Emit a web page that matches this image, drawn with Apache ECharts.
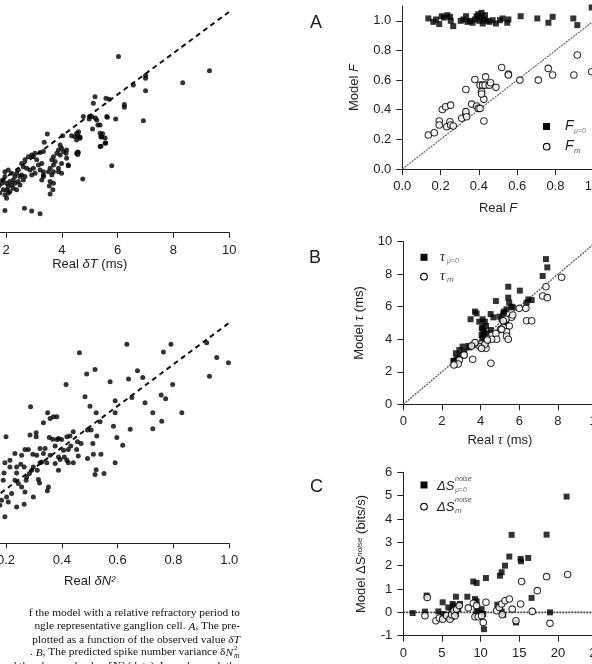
<!DOCTYPE html>
<html>
<head>
<meta charset="utf-8">
<script src="https://cdn.jsdelivr.net/npm/echarts@6.0.0/dist/echarts.min.js"></script>
<style>
  html, body { margin: 0; padding: 0; background: #fff; }
  #chart { width: 592px; height: 664px; }
</style>
</head>
<body>
<div id="chart"></div>
<script>
// left top: model vs real dT (ms)
const dtPoints = [
  [6.03,7.83],[9.29,7.15],[8.33,6.57],[7.0,6.92],[7.0,6.78],[7.0,6.18],[6.56,6.46],[6.92,4.73],[6.24,5.52],[6.24,5.38],
  [5.93,4.82],[5.63,4.9],[5.58,5.82],[5.7,5.77],[5.19,5.89],[5.13,5.57],[5.2,4.86],[5.0,4.94],[4.98,4.82],[5.1,4.33],
  [5.29,4.53],[5.79,2.56],[4.75,1.92],[5.4,3.95],[5.46,4.1],[5.55,3.9],[5.4,3.5],[5.57,3.65],[4.57,4.0],[4.6,4.2],
  [4.53,3.8],[4.65,3.95],[4.35,4.0],[4.57,3.22],[4.57,3.1],[4.23,2.55],[3.48,4.09],[3.37,3.69],[4.03,4.0],[1.96,0.39],
  [2.66,0.5],[2.92,0.37],[3.22,0.23],[3.58,1.19],[3.68,1.4],
  [3.94,3.56],[3.99,3.4],[3.88,3.32],[4.06,3.24],[4.17,3.32],[4.15,3.16],[3.94,3.08],[3.82,3.16],[3.7,2.99],[3.64,2.84],
  [3.76,2.76],[4.17,2.92],[4.23,2.59],[3.99,2.67],[3.88,2.43],[3.7,2.59],[3.58,2.43],[3.52,2.27],[3.64,2.11],[3.58,1.79],
  [3.7,1.71],[3.55,1.58],[3.34,2.11],[3.34,2.27],[3.22,2.35],[3.16,2.59],[3.28,2.67],[3.1,2.84],[2.98,2.99],[2.92,3.08],
  [3.04,3.16],[3.22,3.19],[3.34,3.24],[2.8,2.99],[2.68,2.84],[2.56,2.67],[2.62,2.51],[2.74,2.43],[2.86,2.35],[2.98,2.43],
  [3.04,2.19],[2.92,2.11],[2.68,2.03],[2.56,2.11],[2.44,2.35],[2.38,2.19],[2.32,2.03],[2.26,1.87],[2.14,1.79],[2.02,1.71],
  [1.96,2.03],[1.9,1.87],[1.85,1.71],[2.08,1.55],[2.2,1.63],[2.32,1.71],[2.44,1.79],[2.5,1.63],[1.96,2.27],[2.08,2.35],
  [2.2,2.19],[2.5,2.03],[2.62,1.87],[2.02,1.39],[1.9,1.39],[2.08,1.23],[1.96,1.15],[2.02,0.98],[2.26,1.47],[2.38,1.39],
  [2.14,1.31],[3.7,2.27],[3.88,2.27],[3.99,2.19],[3.28,1.87],[3.34,2.03],[4.53,4.12],[4.47,3.96],[4.65,3.88],[4.53,3.16],
  [4.59,3.19],[4.77,4.93],[5.07,4.93],[5.25,4.77],[5.37,4.53],[5.61,4.93],[5.37,4.12],[5.43,3.96],[5.37,3.48],[5.55,3.64],
  [1.78,1.24],[1.75,1.6],[1.7,1.5],[1.6,1.3],[1.5,1.2],[1.72,1.9],[1.4,1.0]
];

// left bottom: model vs real dN^2
const dnPoints = [
  [0.633,0.896],[0.791,0.896],[0.463,0.856],[0.764,0.859],[0.919,0.904],[0.955,0.833],[0.997,0.808],[0.929,0.743],
  [0.671,0.769],[0.69,0.737],[0.639,0.729],[0.573,0.716],[0.489,0.753],[0.519,0.775],[0.415,0.703],[0.797,0.703],
  [0.483,0.644],[0.501,0.599],[0.523,0.567],[0.591,0.625],[0.591,0.567],[0.651,0.641],[0.698,0.615],[0.756,0.652],
  [0.772,0.634],[0.726,0.567],[0.758,0.527],[0.83,0.567],[0.726,0.49],[0.645,0.488],[0.585,0.503],[0.597,0.448],
  [0.618,0.411],[0.591,0.327],[0.525,0.455],[0.511,0.42],[0.537,0.524],[0.505,0.484],[0.492,0.484],[0.513,0.368],
  [0.492,0.347],[0.523,0.294],[0.519,0.27],[0.551,0.275],[0.54,0.368],[0.469,0.42],[0.456,0.428],[0.441,0.476],
  [0.418,0.452],[0.429,0.455],[0.432,0.407],[0.423,0.391],[0.406,0.387],[0.441,0.327],[0.423,0.327],[0.453,0.391],
  [0.459,0.359],[0.418,0.339],[0.409,0.355],[0.388,0.444],[0.399,0.439],[0.382,0.439],[0.376,0.407],[0.388,0.355],
  [0.394,0.343],[0.388,0.291],[0.376,0.323],[0.358,0.363],[0.346,0.327],[0.328,0.331],[0.334,0.371],[0.322,0.396],
  [0.34,0.396],[0.355,0.448],[0.367,0.44],[0.358,0.54],[0.349,0.567],[0.37,0.548],[0.382,0.548],[0.334,0.519],
  [0.288,0.596],[0.308,0.471],[0.308,0.452],[0.286,0.46],[0.28,0.391],[0.268,0.391],[0.296,0.368],[0.31,0.363],
  [0.322,0.327],[0.312,0.291],[0.298,0.307],[0.292,0.291],[0.284,0.275],[0.274,0.259],[0.272,0.243],[0.265,0.307],
  [0.253,0.32],[0.238,0.307],[0.238,0.278],[0.214,0.339],[0.214,0.307],[0.232,0.371],[0.256,0.363],[0.2,0.452],
  [0.196,0.327],[0.193,0.278],[0.19,0.243],[0.232,0.243],[0.244,0.227],[0.256,0.211],[0.268,0.187],[0.298,0.163],
  [0.265,0.128],[0.238,0.115],[0.208,0.139],[0.196,0.067],[0.352,0.211],[0.348,0.192],[0.22,0.179],[0.202,0.163],
  [0.316,0.247],[0.32,0.23],[0.178,0.123],[0.184,0.147],[0.15,0.1],[0.12,0.08],[0.16,0.2],[0.1,0.05]
];

// panel A: Model F vs Real F
const fZeroPoints = [
  [0.136,1.016],[0.162,0.993],[0.176,1.009],[0.193,0.978],[0.206,1.031],[0.218,1.022],[0.235,1.038],[0.249,1.027],
  [0.253,1.0],[0.266,0.964],[0.305,1.0],[0.319,1.009],[0.333,1.031],[0.34,0.993],[0.354,1.0],[0.367,0.987],
  [0.38,1.009],[0.388,1.031],[0.397,1.045],[0.402,1.0],[0.409,1.022],[0.414,1.054],[0.42,0.982],[0.427,1.009],
  [0.432,1.038],[0.441,1.0],[0.455,0.993],[0.472,1.004],[0.489,0.982],[0.51,1.004],[0.524,1.016],[0.548,0.987],
  [0.554,1.009],[0.618,1.031],[0.705,1.016],[0.763,0.987],[0.785,1.027],[0.893,1.016],[0.914,0.971],[0.989,1.09]
];
const fMPoints = [
  [0.136,0.229],[0.167,0.245],[0.193,0.324],[0.193,0.297],[0.209,0.402],[0.226,0.42],[0.252,0.431],[0.232,0.285],
  [0.249,0.319],[0.252,0.297],[0.266,0.29],[0.31,0.342],[0.332,0.369],[0.332,0.387],[0.336,0.353],[0.332,0.537],
  [0.362,0.438],[0.388,0.425],[0.397,0.409],[0.406,0.409],[0.426,0.47],[0.426,0.324],[0.379,0.604],[0.406,0.566],
  [0.419,0.566],[0.432,0.566],[0.414,0.521],[0.414,0.506],[0.435,0.622],[0.454,0.566],[0.461,0.582],[0.489,0.551],
  [0.519,0.685],[0.554,0.64],[0.554,0.634],[0.614,0.6],[0.71,0.6],[0.762,0.679],[0.785,0.634],[0.896,0.634],
  [0.914,0.769],[0.989,0.656]
];

// panel B: Model tau vs Real tau (ms)
const tauZeroPoints = [
  [7.38,8.93],[7.45,8.42],[7.21,7.89],[6.03,6.99],[4.79,6.35],[5.43,7.23],[5.43,6.56],[5.48,6.25],[5.66,5.96],
  [5.34,5.84],[5.21,5.7],[3.71,5.7],[3.79,5.59],[3.48,5.23],[4.1,5.23],[4.52,5.55],[4.66,5.35],[4.97,5.39],
  [5.09,5.23],[4.22,5.08],[4.28,4.82],[4.1,4.73],[4.17,4.47],[4.31,4.36],[4.05,4.26],[4.1,4.06],[4.52,4.57],
  [5.31,5.08],[6.47,6.45],[6.64,6.41],[6.38,6.25],[3.07,3.55],[2.9,3.34],[2.72,3.14],[2.59,2.66],[2.76,2.83],
  [3.36,3.59],[5.6,6.0],[5.17,5.59],[3.93,5.08],[4.06,4.67],[4.14,4.46],[4.17,4.16],[3.62,3.65],[3.42,3.5],
  [3.15,3.24],[2.93,3.03],[2.62,2.68]
];
const tauMPoints = [
  [8.19,7.81],[7.38,7.23],[7.21,6.66],[7.45,6.56],[6.38,5.14],[6.64,5.14],[6.0,5.9],[6.34,5.9],[5.6,5.35],
  [5.31,5.23],[5.48,4.82],[5.17,4.73],[5.03,4.61],[5.34,4.47],[4.79,4.36],[5.34,4.2],[5.43,4.0],[4.83,4.0],
  [4.57,4.0],[4.31,3.91],[4.05,3.71],[4.17,3.59],[3.97,3.55],[4.28,3.44],[3.71,3.79],[3.53,3.59],[3.1,3.03],
  [2.9,2.73],[2.67,2.48],[2.84,2.48],[3.59,2.77],[4.53,2.52],[5.17,5.14],[5.66,5.49],[5.09,4.61],[4.22,3.7],
  [4.05,3.44],[3.15,3.03],[2.62,2.42],[4.35,3.95]
];

// panel C: Model dS_noise vs real (bits/s)
const dsZeroPoints = [
  [1.21,-0.03],[2.8,0.03],[3.02,0.72],[4.53,0.04],[5.09,0.43],[5.09,-0.07],[5.82,0.21],[5.95,-0.21],[6.25,0.07],
  [6.47,0.29],[6.9,0.24],[7.11,0.14],[6.38,0.36],[6.55,-0.07],[6.25,-0.21],[6.81,-0.07],[7.33,0.36],[6.81,0.67],
  [8.28,0.67],[9.05,1.32],[9.48,1.26],[9.27,0.57],[9.48,0.47],[9.48,0.04],[9.7,0.0],[9.4,-0.1],[9.91,-0.04],
  [10.13,0.14],[10.34,-0.07],[10.43,-0.72],[10.69,1.47],[12.16,0.33],[12.5,1.57],[12.72,1.72],[13.15,2.0],
  [13.71,2.39],[14.01,3.32],[12.72,0.04],[12.93,-0.1],[14.57,-0.43],[15.17,2.29],[15.22,2.19],[16.16,2.33],
  [16.59,0.62],[18.53,3.33],[18.97,0.0],[21.12,4.96]
];
const dsMPoints = [
  [2.8,-0.14],[3.1,0.64],[4.22,-0.36],[4.66,-0.24],[5.09,-0.29],[5.6,-0.14],[6.03,-0.29],[6.25,-0.1],[6.55,0.07],
  [6.68,-0.14],[6.9,0.14],[7.24,0.29],[8.41,0.19],[9.05,0.39],[9.48,0.29],[9.27,-0.19],[9.7,-0.19],[10.13,-0.14],
  [10.34,-0.43],[10.69,0.43],[12.07,0.07],[12.41,0.21],[12.72,0.36],[12.8,-0.1],[13.15,0.5],[13.71,0.57],
  [14.09,0.14],[14.57,-0.36],[15.17,0.36],[15.3,1.32],[16.68,0.04],[17.33,0.93],[18.53,1.53],[18.97,-0.47],
  [21.25,1.62]
];

const fTicks = [0, 0.2, 0.4, 0.6, 0.8, 1.0];

const sans = 'Liberation Sans';
const serif = 'Liberation Serif';
const ink = '#222';

const chart = echarts.init(document.getElementById('chart'));

// shared axis look
function axis(gridIndex, extra) {
  return Object.assign({
    gridIndex: gridIndex,
    type: 'value',
    nameLocation: 'middle',
    splitLine: { show: false },
    axisLine: { onZero: false, lineStyle: { color: ink, width: 1 } },
    axisTick: { length: 5, lineStyle: { color: ink } },
    axisLabel: { color: ink, fontSize: 13, fontFamily: sans, margin: 11 },
    nameTextStyle: {
      color: ink, fontSize: 13, fontFamily: sans,
      rich: {
        i: { fontStyle: 'italic', fontSize: 13, fontFamily: sans, color: ink },
        g: { fontStyle: 'italic', fontSize: 14, fontFamily: serif, color: ink },
        sup: { fontStyle: 'italic', fontSize: 8, fontFamily: sans, color: ink, verticalAlign: 'top', lineHeight: 10 }
      }
    }
  }, extra);
}

const oneDec = v => v.toFixed(1);

function scatter(name, data, xi, symbol, size, hollow) {
  return {
    name: name, type: 'scatter', xAxisIndex: xi, yAxisIndex: xi,
    data: data, symbol: symbol, symbolSize: size, silent: true,
    itemStyle: hollow
      ? { color: '#fff', borderColor: '#000', borderWidth: 1.1 }
      : { color: '#000' }
  };
}

function refLine(data, xi, style) {
  return {
    type: 'line', xAxisIndex: xi, yAxisIndex: xi, data: data,
    symbol: 'none', silent: true, lineStyle: style, z: 1
  };
}

function txt(x, y, text, size, opts) {
  return {
    type: 'text', x: x, y: y, silent: true,
    style: Object.assign({
      text: text, fontSize: size, fontFamily: sans, fill: ink,
      align: 'left', verticalAlign: 'middle'
    }, opts || {})
  };
}

const capRich = {
  i: { fontStyle: 'italic', fontSize: 11.4, fontFamily: serif, fill: '#111' }
};
function capLine(y, text) {
  return txt(240, y, text, 11.4, { fontFamily: serif, align: 'right', rich: capRich, fill: '#111' });
}

// grids may run past the page edge, as in the cropped figure
const gridBase = { outerBoundsMode: 'none', containLabel: false };

const option = {
  animation: false,
  backgroundColor: '#fff',
  grid: [
    Object.assign({ left: -49.8, top: 11.7, width: 279.1, height: 221 }, gridBase),
    Object.assign({ left: -49.8, top: 322.7, width: 279.1, height: 220.6 }, gridBase),
    Object.assign({ left: 402.3, top: 6, width: 191.5, height: 163 }, gridBase),
    Object.assign({ left: 403.3, top: 241.7, width: 193.3, height: 162.6 }, gridBase),
    Object.assign({ left: 403.3, top: 472.3, width: 193.3, height: 163.4 }, gridBase)
  ],
  xAxis: [
    axis(0, { min: 0, max: 10, interval: 2, name: 'Real {i|δT} (ms)', nameGap: 23 }),
    axis(1, { min: 0, max: 1, interval: 0.2, name: 'Real {i|δN²}', nameGap: 32,
      axisLabel: { color: ink, fontSize: 13, fontFamily: sans, margin: 11, formatter: oneDec } }),
    axis(2, { min: 0, max: 1, interval: 0.2, name: 'Real {i|F}', nameGap: 33, axisTick: { length: 6, lineStyle: { color: ink } },
      axisLabel: { color: ink, fontSize: 13, fontFamily: sans, margin: 11, formatter: oneDec } }),
    axis(3, { min: 0, max: 10, interval: 2, name: 'Real {g|τ} (ms)', nameGap: 29, axisTick: { length: 6, lineStyle: { color: ink } } }),
    axis(4, { min: 0, max: 25, interval: 5, axisTick: { length: 6, lineStyle: { color: ink } } })
  ],
  yAxis: [
    { gridIndex: 0, type: 'value', min: -0.68, max: 10, show: false },
    { gridIndex: 1, type: 'value', min: -0.06, max: 1, show: false },
    axis(2, { min: 0, max: 1.1, name: 'Model {i|F}', nameGap: 41, nameRotate: 90,
      axisTick: { length: 6, lineStyle: { color: ink }, customValues: fTicks },
      axisLabel: { color: ink, fontSize: 13, fontFamily: sans, margin: 11, formatter: oneDec, customValues: fTicks } }),
    axis(3, { min: 0, max: 10, interval: 2, name: 'Model {g|τ} (ms)', nameGap: 37, nameRotate: 90,
      axisTick: { length: 6, lineStyle: { color: ink } } }),
    axis(4, { min: -1, max: 6, interval: 1, name: 'Model ΔS{sup|noise} (bits/s)', nameGap: 35, nameRotate: 90,
      axisTick: { length: 6, lineStyle: { color: ink } } })
  ],
  series: [
    refLine([[0, 0], [10, 10]], 0, { color: '#111', width: 2, type: [5, 4] }),
    scatter('dT', dtPoints, 0, 'circle', 5),
    refLine([[0, 0], [1, 1]], 1, { color: '#111', width: 2, type: [5, 4] }),
    scatter('dN2', dnPoints, 1, 'circle', 5),
    refLine([[0, 0], [1, 1]], 2, { color: '#666', width: 1.2, type: [2, 1] }),
    scatter('F0', fZeroPoints, 2, 'rect', 6),
    scatter('Fm', fMPoints, 2, 'circle', 6.5, true),
    refLine([[0, 0], [10, 10]], 3, { color: '#666', width: 1.4, type: [2, 1] }),
    scatter('tau0', tauZeroPoints, 3, 'rect', 6),
    scatter('taum', tauMPoints, 3, 'circle', 6.5, true),
    refLine([[0, 0], [25, 0]], 4, { color: '#444', width: 1.6, type: [2, 1] }),
    scatter('ds0', dsZeroPoints, 4, 'rect', 6),
    scatter('dsm', dsMPoints, 4, 'circle', 6.5, true)
  ],
  graphic: [
    txt(310, 23, 'A', 18),
    txt(309, 258, 'B', 18),
    txt(310, 487, 'C', 18),
    // legend A
    { type: 'rect', shape: { x: 543, y: 123, width: 7, height: 7 }, style: { fill: '#000' }, silent: true },
    { type: 'circle', shape: { cx: 546.7, cy: 146.7, r: 3.3 }, style: { fill: '#fff', stroke: '#000', lineWidth: 1.1 }, silent: true },
    txt(565, 126, 'F', 14, { fontStyle: 'italic' }),
    txt(574, 131, 'μ=0', 7, { fontStyle: 'italic', fill: '#777' }),
    txt(565, 146, 'F', 14, { fontStyle: 'italic' }),
    txt(574, 151, 'm', 8, { fontStyle: 'italic', fill: '#555' }),
    // legend B
    { type: 'rect', shape: { x: 420.5, y: 253.8, width: 7, height: 7 }, style: { fill: '#000' }, silent: true },
    { type: 'circle', shape: { cx: 424, cy: 276.7, r: 3.3 }, style: { fill: '#fff', stroke: '#000', lineWidth: 1.1 }, silent: true },
    txt(440, 257, 'τ', 14, { fontStyle: 'italic', fontFamily: serif }),
    txt(447, 261, 'μ=0', 7, { fontStyle: 'italic', fill: '#777' }),
    txt(440, 276, 'τ', 14, { fontStyle: 'italic', fontFamily: serif }),
    txt(447, 280, 'm', 8, { fontStyle: 'italic', fill: '#555' }),
    // legend C
    { type: 'rect', shape: { x: 420.5, y: 481.5, width: 7, height: 7 }, style: { fill: '#000' }, silent: true },
    { type: 'circle', shape: { cx: 424, cy: 506.7, r: 3.3 }, style: { fill: '#fff', stroke: '#000', lineWidth: 1.1 }, silent: true },
    txt(437, 486, 'ΔS', 13, { fontStyle: 'italic' }),
    txt(455, 479, 'noise', 7, { fontStyle: 'italic', fill: '#555' }),
    txt(455, 490, 'μ=0', 7, { fontStyle: 'italic', fill: '#777' }),
    txt(437, 507, 'ΔS', 13, { fontStyle: 'italic' }),
    txt(455, 500, 'noise', 7, { fontStyle: 'italic', fill: '#555' }),
    txt(455, 511, 'm', 8, { fontStyle: 'italic', fill: '#555' }),
    // caption fragment
    capLine(613, 'f the model with a relative refractory period to'),
    capLine(626.5, 'ngle representative ganglion cell. {i|A}, The pre-'),
    capLine(640, 'plotted as a function of the observed value {i|δT}'),
    txt(233, 652.5, '. {i|B}, The predicted spike number variance δ{i|N}', 11.4, { fontFamily: serif, align: 'right', rich: capRich, fill: '#111' }),
    txt(234, 648, '2', 7, { fontFamily: serif, fill: '#111' }),
    txt(234, 656, 'm', 7.5, { fontFamily: serif, fontStyle: 'italic', fill: '#111' }),
    capLine(666, 'and the observed value δN² (dots). In each panel, the')
  ]
};

chart.setOption(option);
</script>
</body>
</html>
